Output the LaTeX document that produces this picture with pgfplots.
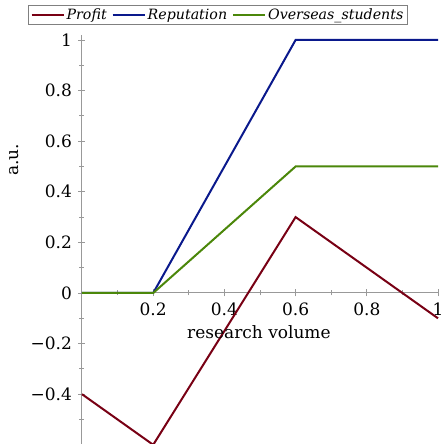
\documentclass[border=0pt]{standalone}
\usepackage{fontspec}
\setmainfont{DejaVu Serif}
\usepackage{pgfplots}
\pgfplotsset{compat=1.18}
\definecolor{cred}{RGB}{120,0,20}
\definecolor{cblue}{RGB}{10,25,140}
\definecolor{cgreen}{RGB}{75,135,10}
\begin{document}
\begin{tikzpicture}
\begin{axis}[
  x=356pt, y=253pt,
  axis lines=middle,
  axis line style={-, gray!80, line width=1pt},
  xmin=0, xmax=1, ymin=-0.6, ymax=1.02,
  clip=false,
  hide obscured y ticks=false,
  hide obscured x ticks=false,
  xtick={0.2,0.4,0.6,0.8,1},
  xticklabels={0.2,0.4,0.6,0.8,1},
  minor xtick={0.1,0.3,0.5,0.7,0.9},
  ytick={-0.4,-0.2,0,0.2,0.4,0.6,0.8,1},
  yticklabels={−0.4,−0.2,0,0.2,0.4,0.6,0.8,1},
  minor ytick={-0.5,-0.3,-0.1,0.1,0.3,0.5,0.7,0.9},
  tick style={gray!80, line width=0.8pt},
  major tick length=7pt, minor tick length=5pt,
  tick label style={font=\fontsize{17}{20}\selectfont, black},
  xticklabel style={yshift=-3pt},
  yticklabel style={xshift=-3pt},
  xlabel={research volume},
  ylabel={a.u.},
  label style={font=\fontsize{17}{20}\selectfont},
  xlabel style={at={(axis description cs:0.497,0.275)}, anchor=center},
  ylabel style={at={(axis description cs:-0.191,0.695)}, anchor=center, rotate=90},
  legend columns=3,
  legend style={at={(axis description cs:0.382,1.073)}, anchor=north,
    draw=gray, line width=1pt, font=\itshape\fontsize{14.2}{16}\selectfont,
    inner xsep=2pt, inner ysep=1.5pt, row sep=0pt,
    /tikz/every even column/.append style={column sep=3pt}},
  legend image code/.code={\draw[#1, line width=2pt] (0pt,0pt) -- (32pt,0pt);},
]
\coordinate (O) at (axis cs:0,0);
\addplot[cred, line width=2pt] coordinates {(0,-0.4) (0.2,-0.6) (0.6,0.3) (1,-0.1)};
\addlegendentry{Profit}
\addplot[cblue, line width=2pt] coordinates {(0,0) (0.2,0) (0.6,1) (1,1)};
\addlegendentry{Reputation}
\addplot[cgreen, line width=2pt] coordinates {(0,0) (0.2,0) (0.6,0.5) (1,0.5)};
\addlegendentry{Overseas\_students}
\end{axis}
\pgfresetboundingbox
\path[use as bounding box] ([shift={(-82pt,293pt)}]O) rectangle ([shift={(360pt,-151pt)}]O);
\end{tikzpicture}
\end{document}
